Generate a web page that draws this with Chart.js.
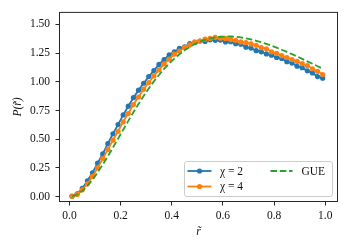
<!DOCTYPE html>
<html><head><meta charset="utf-8">
<script src="https://cdn.jsdelivr.net/npm/chart.js@4.4.1/dist/chart.umd.min.js"></script>
<style>html,body{margin:0;padding:0;background:#fff;}canvas{display:block;}</style>
</head><body>
<canvas id="c" width="350" height="250"></canvas>
<script>
// ---- data ----
const rBins = [0.01,0.03,0.05,0.07,0.09,0.11,0.13,0.15,0.17,0.19,0.21,0.23,0.25,0.27,0.29,0.31,0.33,0.35,0.37,0.39,0.41,0.43,0.45,0.47,0.49,0.51,0.53,0.55,0.57,0.59,0.61,0.63,0.65,0.67,0.69,0.71,0.73,0.75,0.77,0.79,0.81,0.83,0.85,0.87,0.89,0.91,0.93,0.95,0.97,0.99];
const chi2 = [0.004,0.025,0.072,0.138,0.208,0.292,0.372,0.462,0.548,0.628,0.712,0.788,0.862,0.928,0.988,1.046,1.098,1.152,1.193,1.236,1.262,1.292,1.306,1.334,1.342,1.356,1.352,1.366,1.362,1.364,1.348,1.350,1.332,1.328,1.302,1.294,1.272,1.262,1.243,1.232,1.212,1.204,1.176,1.164,1.136,1.124,1.096,1.078,1.046,1.032];
const chi4 = [0.003,0.020,0.060,0.112,0.176,0.250,0.332,0.410,0.492,0.570,0.652,0.724,0.802,0.868,0.936,0.994,1.052,1.104,1.156,1.198,1.242,1.268,1.302,1.322,1.348,1.356,1.372,1.378,1.388,1.380,1.378,1.368,1.362,1.348,1.342,1.330,1.318,1.298,1.288,1.262,1.248,1.228,1.212,1.194,1.178,1.158,1.142,1.114,1.092,1.064];
const gue  = [0.002,0.019,0.050,0.094,0.148,0.210,0.279,0.352,0.428,0.505,0.583,0.660,0.735,0.807,0.877,0.942,1.004,1.060,1.113,1.160,1.203,1.241,1.275,1.304,1.329,1.349,1.365,1.378,1.387,1.393,1.395,1.395,1.392,1.387,1.379,1.370,1.358,1.345,1.331,1.315,1.298,1.280,1.261,1.241,1.221,1.200,1.179,1.158,1.136,1.114];
const seriesLabels = ['χ = 2', 'χ = 4', 'GUE'];
const xTicks = [0.0, 0.2, 0.4, 0.6, 0.8, 1.0];
const yTicks = [0.00, 0.25, 0.50, 0.75, 1.00, 1.25, 1.50];
const xTitle = 'r\u0303';
const yTitle = 'P(r\u0303)';

// ---- styling ----
const FONT = "'Liberation Serif', 'Times New Roman', serif";
const FS = 11.5;
const AX = '#262626';
const C_BLUE = '#1f77b4', C_ORANGE = '#ff7f0e', C_GREEN = '#2ca02c';

const pts = ys => rBins.map((x, i) => ({x, y: ys[i]}));

const spines = {
  id: 'spines',
  afterDatasetsDraw(chart) {
    const {ctx, chartArea: a} = chart;
    ctx.save();
    ctx.strokeStyle = AX; ctx.lineWidth = 1;
    ctx.strokeRect(a.left, a.top, a.right - a.left, a.bottom - a.top);
    ctx.restore();
  }
};

const legendBox = {
  id: 'legendBox',
  afterDraw(chart) {
    const ctx = chart.ctx;
    const ds = chart.data.datasets;
    const bx = 184.5, by = 161.5, bw = 148, bh = 35, r = 2.5;
    ctx.save();
    ctx.beginPath();
    ctx.moveTo(bx + r, by); ctx.lineTo(bx + bw - r, by); ctx.arcTo(bx + bw, by, bx + bw, by + r, r);
    ctx.lineTo(bx + bw, by + bh - r); ctx.arcTo(bx + bw, by + bh, bx + bw - r, by + bh, r);
    ctx.lineTo(bx + r, by + bh); ctx.arcTo(bx, by + bh, bx, by + bh - r, r);
    ctx.lineTo(bx, by + r); ctx.arcTo(bx, by, bx + r, by, r);
    ctx.closePath();
    ctx.fillStyle = 'rgba(255,255,255,0.8)'; ctx.fill();
    ctx.strokeStyle = '#cccccc'; ctx.lineWidth = 1; ctx.stroke();
    const slots = [
      {x0: 187.5, x1: 211.5, tx: 220, y: 171},
      {x0: 187.5, x1: 211.5, tx: 220, y: 186.5},
      {x0: 270.5, x1: 292.5, tx: 301.5, y: 171}
    ];
    ds.forEach((d, i) => {
      const s = slots[i];
      ctx.strokeStyle = d.borderColor; ctx.lineWidth = d.borderWidth;
      ctx.setLineDash(d.borderDash || []);
      ctx.beginPath(); ctx.moveTo(s.x0, s.y); ctx.lineTo(s.x1, s.y); ctx.stroke();
      ctx.setLineDash([]);
      if (d.pointRadius > 0) {
        ctx.fillStyle = d.borderColor;
        ctx.beginPath(); ctx.arc((s.x0 + s.x1) / 2, s.y, d.pointRadius, 0, Math.PI * 2); ctx.fill();
      }
      ctx.fillStyle = '#111';
      ctx.font = FS + 'px ' + FONT;
      ctx.textBaseline = 'middle'; ctx.textAlign = 'left';
      ctx.fillText(d.label, s.tx, s.y + 0.5);
    });
    ctx.restore();
  }
};

new Chart(document.getElementById('c'), {
  type: 'line',
  data: {
    datasets: [
      {label: seriesLabels[0], data: pts(chi2), borderColor: C_BLUE, backgroundColor: C_BLUE,
       borderWidth: 1.8, pointRadius: 2.6, pointBorderWidth: 0, pointBackgroundColor: C_BLUE, order: 2, tension: 0},
      {label: seriesLabels[1], data: pts(chi4), borderColor: C_ORANGE, backgroundColor: C_ORANGE,
       borderWidth: 1.8, pointRadius: 2.6, pointBorderWidth: 0, pointBackgroundColor: C_ORANGE, order: 1, tension: 0},
      {label: seriesLabels[2], data: pts(gue), borderColor: C_GREEN, backgroundColor: C_GREEN,
       borderWidth: 1.8, borderDash: [6.5, 2.8], pointRadius: 0, order: 0, tension: 0}
    ]
  },
  options: {
    responsive: false, animation: false, devicePixelRatio: 1,
    layout: {padding: {left: 0, right: 12.5, top: 11.5, bottom: 0}},
    plugins: {legend: {display: false}, tooltip: {enabled: false}},
    scales: {
      x: {
        type: 'linear', min: -0.039, max: 1.048,
        afterBuildTicks: s => { s.ticks = xTicks.map(v => ({value: v})); },
        afterFit: s => { s.height = 48.5; },
        grid: {display: true, drawOnChartArea: false, drawTicks: true, tickLength: 4, tickColor: AX, tickWidth: 1},
        border: {display: false},
        ticks: {color: '#111', font: {family: FONT, size: FS}, padding: 4, maxRotation: 0,
                callback: v => Number(v).toFixed(1)},
        title: {display: true, text: xTitle, color: '#111', font: {family: FONT, size: FS, style: 'italic'},
                padding: {top: 0, bottom: 11.4}}
      },
      y: {
        type: 'linear', min: -0.042, max: 1.605,
        afterBuildTicks: s => { s.ticks = yTicks.map(v => ({value: v})); },
        afterFit: s => { s.width = 59.5; },
        grid: {display: true, drawOnChartArea: false, drawTicks: true, tickLength: 4, tickColor: AX, tickWidth: 1},
        border: {display: false},
        ticks: {color: '#111', font: {family: FONT, size: FS}, padding: 5.5,
                callback: v => Number(v).toFixed(2)},
        title: {display: true, text: yTitle, color: '#111', font: {family: FONT, size: FS, style: 'italic'},
                padding: {top: 11.5, bottom: 0}}
      }
    }
  },
  plugins: [spines, legendBox]
});
</script>
</body></html>
